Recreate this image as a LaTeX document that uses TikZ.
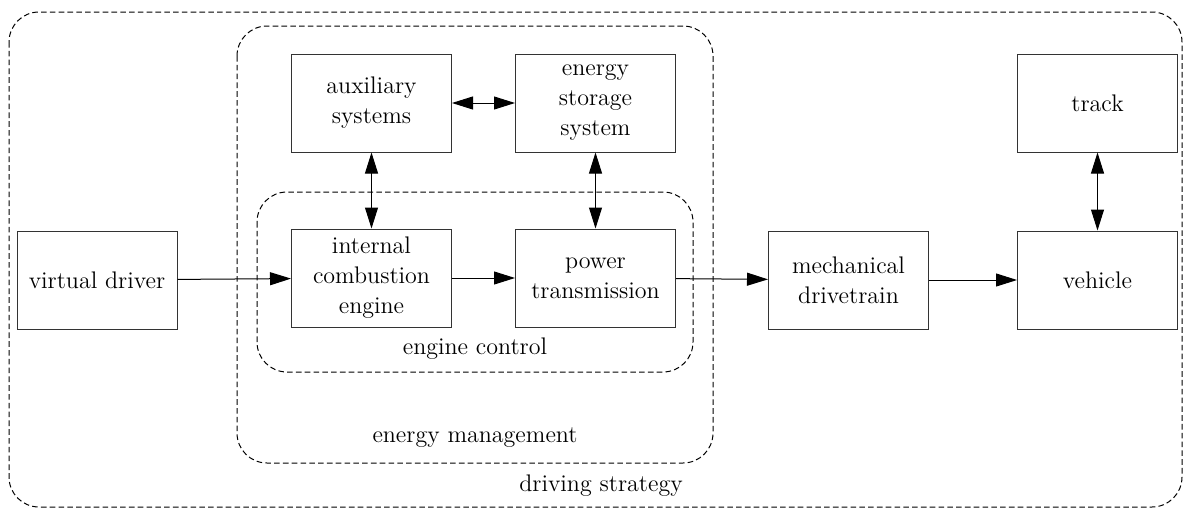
\documentclass[tikz,border=0pt]{standalone}
\usepackage{tikz}
\usetikzlibrary{arrows.meta,positioning}

\begin{document}
\begin{tikzpicture}[
  x=0.5pt, y=-0.5pt,
  font=\fontsize{12}{15}\selectfont,
  box/.style={draw=black!80, line width=0.5pt, align=center, inner sep=2pt,
    minimum width=80pt, minimum height=49pt},
  group/.style={draw, dash pattern=on 2.8pt off 1.6pt, line width=0.5pt,
    rounded corners=15pt},
  arrow/.style={-{Triangle[length=10.5pt, width=6.5pt]}, line width=0.5pt},
  both/.style={{Triangle[length=10.5pt, width=6.5pt]}-{Triangle[length=10.5pt, width=6.5pt]}, line width=0.5pt},
]
\useasboundingbox (0,0) rectangle (1184,509);

% containers
\draw[group] (9,12) rectangle (1182,507);
\draw[group] (237,26) rectangle (713,463);
\draw[group] (257,192) rectangle (693,372);
\node (ctrl) at (475,349) {engine control};
\node (mgmt) at (475,438) {energy management};
\node (strat) at (601,486) {driving strategy};

% blocks
\node[box] (ice) at (371.5,278) {internal\\ combustion\\ engine};
\node[box, right=31.5pt of ice] (pt) {power\\ transmission};
\node[box, above=38pt of ice] (aux) {auxiliary\\ systems};
\node[box, above=38pt of pt] (ess) {energy\\ storage\\ system};
\node[box] (driver) at (97,280) {virtual driver};
\node[box] (mech) at (848.5,280) {mechanical\\ drivetrain};
\node[box, right=44pt of mech] (vehicle) {vehicle};
\node[box, above=39pt of vehicle] (track) {track};

% connections
\draw[arrow] (driver) -- (ice);
\draw[arrow] (ice) -- (pt);
\draw[arrow] (pt) -- (mech);
\draw[arrow] (mech) -- (vehicle);
\draw[both] (aux) -- (ess);
\draw[both] (aux) -- (ice);
\draw[both] (ess) -- (pt);
\draw[both] (track) -- (vehicle);
\end{tikzpicture}
\end{document}
